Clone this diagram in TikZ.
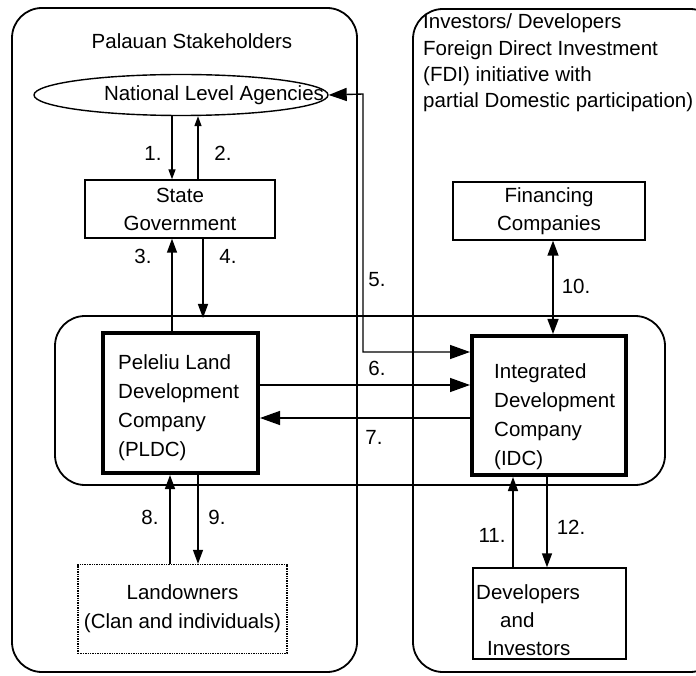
\documentclass[tikz,border=0pt]{standalone}
\usepackage{fontspec}
\setmainfont{Liberation Sans}
\usetikzlibrary{arrows.meta,shapes.geometric}
\begin{document}
\begin{tikzpicture}[x=1pt,y=-1pt,
  every node/.style={font=\fontsize{20.5}{28}\selectfont, inner sep=0pt},
  group/.style={draw, line width=1.8pt, rounded corners=30pt},
  thinbox/.style={draw, line width=1.4pt},
  thickbox/.style={draw, line width=4pt},
  conn/.style={line width=1.4pt},
  bighead/.style={-{Triangle[length=20pt,width=14pt]}},
  midhead/.style={-{Triangle[length=14pt,width=10pt]}},
  smallhead/.style={-{Triangle[length=10pt,width=7pt]}},
  lbl/.style={font=\fontsize{20.5}{24}\selectfont},
  tall/.style={font=\fontsize{20.5}{29}\selectfont}
]
\useasboundingbox (0,0) rectangle (696,676);
\clip (0,0) rectangle (696,676);

% stakeholder groups
\draw[group] (12,8) rectangle (357,672);
\draw[group] (413,9) rectangle (720,672);
\draw[group] (55,316) rectangle (665,485);

\node (tl) at (192,41) {Palauan Stakeholders};
\node[anchor=west, align=left, font=\fontsize{20.5}{26.3}\selectfont] (tr) at (423,63)
  {Investors/ Developers\\Foreign Direct Investment\\(FDI) initiative with\\partial Domestic participation)};

% Palauan side
\node[ellipse, draw, line width=1.4pt, minimum width=294pt, minimum height=41pt] (nla) at (181,95) {};
\node (nlat) at (214,95) {National Level Agencies};
\node[thinbox, minimum width=190pt, minimum height=58pt, align=center] (sg) at (180,209) {State\\Government};
\node[thickbox, minimum width=155pt, minimum height=140pt] (pldc) at (180.5,403) {};
\node[tall, anchor=north west, align=left] (pldct) at (118,354) {Peleliu Land\\Development\\Company\\(PLDC)};
\node[draw, densely dotted, line width=1.4pt, minimum width=209pt, minimum height=89pt, align=center, tall] (lo) at (182.5,609) {Landowners\\(Clan and individuals)};

% investor side
\node[thinbox, minimum width=192pt, minimum height=58pt, align=center] (fc) at (549,211) {Financing\\Companies};
\node[thickbox, minimum width=154pt, minimum height=139pt] (idc) at (549,405.5) {};
\node[tall, anchor=north west, align=left] (idct) at (494,363) {Integrated\\Development\\Company\\(IDC)};
\node[thinbox, minimum width=153pt, minimum height=91pt] (dev) at (549.5,613.5) {};
\node[anchor=north west, align=left] (devt) at (476,584) {Developers\\\hspace*{24pt}and\\\hspace*{11pt}Investors};

% national agencies and state government
\draw[conn,smallhead] (nla.south -| 172,0) -- (sg.north -| 172,0);
\draw[conn,smallhead] (sg.north -| 198,0) -- (nla.south -| 198,0);
\node[lbl] (l1) at (153,153) {1.};
\node[lbl] (l2) at (223,153) {2.};

% state government and PLDC
\coordinate (c4) at (203,318);
\draw[conn,midhead] (pldc.north -| 172,0) -- (sg.south -| 172,0);
\draw[conn,midhead] (sg.south -| 203,0) -- (c4);
\node[lbl] (l3) at (143,256) {3.};
\node[lbl] (l4) at (228,256) {4.};

% agencies and IDC
\coordinate (c5a) at (363,94);
\coordinate (c5b) at (363,352);
\draw[conn,{Triangle[length=18pt,width=13pt]}-{Triangle[length=20pt,width=14pt]}]
  (nla.east) -- (c5a) -- (c5b) -- (idc.west |- c5b);
\node[lbl] (l5) at (377,280) {5.};

% PLDC and IDC
\draw[conn,bighead] (pldc.east |- 0,385) -- (idc.west |- 0,385);
\draw[conn,bighead] (idc.west |- 0,418) -- (pldc.east |- 0,418);
\node[lbl] (l6) at (377,368) {6.};
\node[lbl] (l7) at (374,437) {7.};

% financing and IDC
\draw[conn,{Triangle[length=15pt,width=11pt]}-{Triangle[length=15pt,width=11pt]}] (fc.south -| 553,0) -- (idc.north -| 553,0);
\node[lbl] (l10) at (576,286) {10.};

% PLDC and landowners
\draw[conn,midhead] (lo.north -| 170,0) -- (pldc.south -| 170,0);
\draw[conn,midhead] (pldc.south -| 198,0) -- (lo.north -| 198,0);
\node[lbl] (l8) at (150,517) {8.};
\node[lbl] (l9) at (217,517) {9.};

% IDC and developers
\draw[conn,midhead] (dev.north -| 513,0) -- (idc.south -| 513,0);
\draw[conn,midhead] (idc.south -| 547,0) -- (dev.north -| 547,0);
\node[lbl] (l11) at (492,535) {11.};
\node[lbl] (l12) at (571,527) {12.};
\end{tikzpicture}
\end{document}
